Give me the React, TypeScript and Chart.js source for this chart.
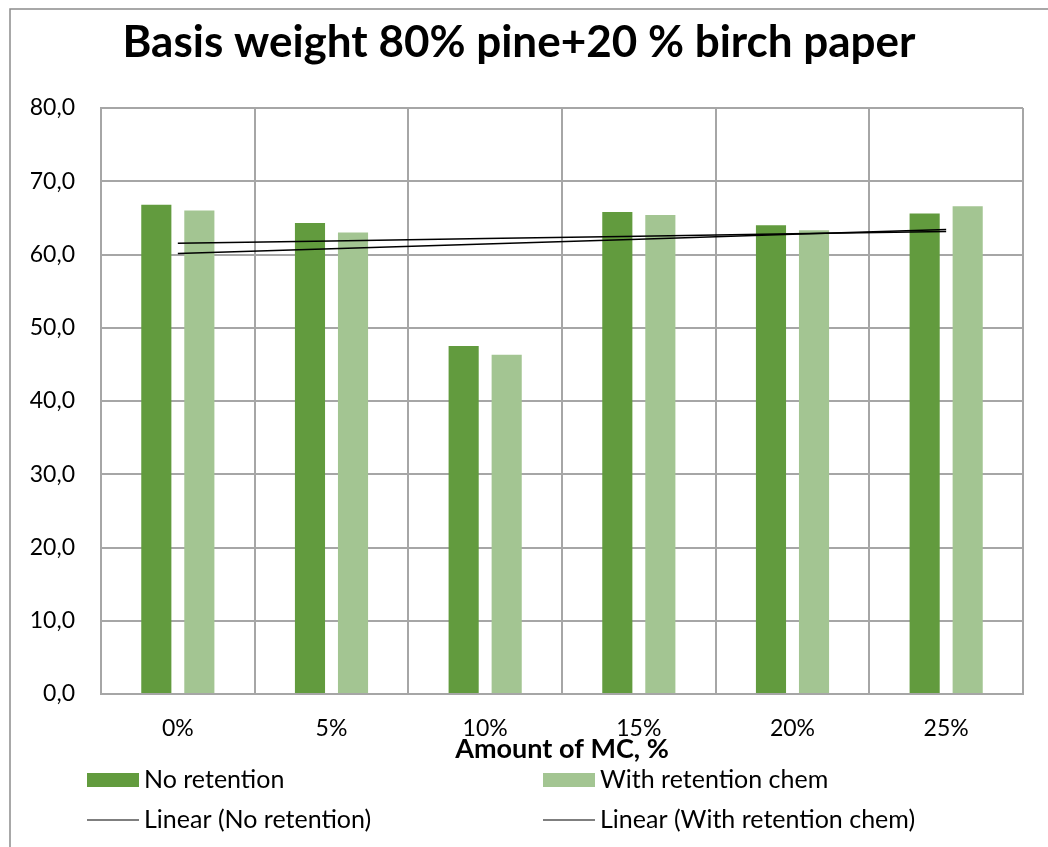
import React, { useEffect, useRef } from "react";
import { Chart, registerables } from "chart.js";

Chart.register(...registerables);

// Chart data
const categories = ["0%", "5%", "10%", "15%", "20%", "25%"];
const noRetention = [66.8, 64.3, 47.5, 65.8, 64.0, 65.6];
const withRetention = [66.0, 63.0, 46.3, 65.4, 63.3, 66.6];
const seriesNames = ["No retention", "With retention chem"];
const trendNames = ["Linear (No retention)", "Linear (With retention chem)"];
const titleText = "Basis weight 80% pine+20 % birch paper";
const axisTitle = "Amount of MC, %";

const DARK = "#629B3E";
const LIGHT = "#A3C592";
const GRID = "#a6a6a6";
const FONT = "Lato, 'Liberation Sans', sans-serif";

// Least-squares linear trend evaluated at each category index
function linearTrend(values: number[]): number[] {
  const n = values.length;
  const xs = values.map((_, i) => i + 1);
  const mx = xs.reduce((a, b) => a + b, 0) / n;
  const my = values.reduce((a, b) => a + b, 0) / n;
  let sxy = 0;
  let sxx = 0;
  for (let i = 0; i < n; i++) {
    sxy += (xs[i] - mx) * (values[i] - my);
    sxx += (xs[i] - mx) * (xs[i] - mx);
  }
  const slope = sxy / sxx;
  return xs.map((x) => my + slope * (x - mx));
}

const formatComma = (v: number) => v.toFixed(1).replace(".", ",");

// Title, axis title, frame and legend drawn onto the canvas
const decorations = {
  id: "decorations",
  beforeDraw(chart: any) {
    const ctx = chart.ctx;
    ctx.save();
    ctx.strokeStyle = "#8c8c8c";
    ctx.lineWidth = 1.5;
    ctx.beginPath();
    ctx.moveTo(10, chart.height);
    ctx.lineTo(10, 9);
    ctx.lineTo(chart.width, 9);
    ctx.stroke();
    ctx.restore();
  },
  afterDraw(chart: any) {
    const ctx = chart.ctx;
    const area = chart.chartArea;
    ctx.save();
    ctx.fillStyle = "#000";
    ctx.textAlign = "center";
    ctx.textBaseline = "alphabetic";
    ctx.font = `bold 44px ${FONT}`;
    ctx.fillText(titleText, 519, 57);

    ctx.font = `bold 27px ${FONT}`;
    ctx.fillText(axisTitle, (area.left + area.right) / 2, 758);

    // legend
    ctx.textAlign = "left";
    ctx.font = `25px ${FONT}`;
    const cols = [87, 543];
    const colors = [DARK, LIGHT];
    for (let i = 0; i < 2; i++) {
      const x = cols[i];
      ctx.fillStyle = colors[i];
      ctx.fillRect(x, 773, 52, 14);
      ctx.fillStyle = "#000";
      ctx.fillText(seriesNames[i], x + 57, 788);
      ctx.strokeStyle = "#000";
      ctx.lineWidth = 1.2;
      ctx.beginPath();
      ctx.moveTo(x, 820);
      ctx.lineTo(x + 52, 820);
      ctx.stroke();
      ctx.fillText(trendNames[i], x + 57, 828);
    }
    ctx.restore();
  },
};

export default function App() {
  const ref = useRef<HTMLCanvasElement | null>(null);

  useEffect(() => {
    if (!ref.current) return;
    const chart = new Chart(ref.current, {
      type: "bar",
      data: {
        labels: categories,
        datasets: [
          {
            type: "line",
            label: trendNames[0],
            data: linearTrend(noRetention),
            borderColor: "#000",
            borderWidth: 1.5,
            pointRadius: 0,
            fill: false,
            order: 0,
          },
          {
            type: "line",
            label: trendNames[1],
            data: linearTrend(withRetention),
            borderColor: "#000",
            borderWidth: 1.5,
            pointRadius: 0,
            fill: false,
            order: 0,
          },
          {
            type: "bar",
            label: seriesNames[0],
            data: noRetention,
            backgroundColor: DARK,
            categoryPercentage: 0.56,
            barPercentage: 0.7,
            order: 1,
          },
          {
            type: "bar",
            label: seriesNames[1],
            data: withRetention,
            backgroundColor: LIGHT,
            categoryPercentage: 0.56,
            barPercentage: 0.7,
            order: 1,
          },
        ] as any,
      },
      options: {
        animation: false,
        responsive: true,
        maintainAspectRatio: false,
        layout: { padding: { top: 108, right: 25, bottom: 0, left: 0 } },
        plugins: {
          legend: { display: false },
          title: { display: false },
          tooltip: { enabled: false },
        },
        scales: {
          x: {
            offset: true,
            grid: {
              offset: true,
              color: GRID,
              lineWidth: 2,
              drawTicks: false,
            },
            border: { color: GRID, width: 2 },
            ticks: {
              color: "#000",
              font: { family: FONT, size: 23 },
              padding: 21,
              maxRotation: 0,
            },
            afterFit(scale: any) {
              scale.height = 153;
            },
          },
          y: {
            min: 0,
            max: 80,
            grid: { color: GRID, lineWidth: 2, drawTicks: false },
            border: { color: GRID, width: 2 },
            ticks: {
              stepSize: 10,
              color: "#000",
              font: { family: FONT, size: 23 },
              padding: 26,
              callback: (v: any) => formatComma(Number(v)),
            },
            afterFit(scale: any) {
              scale.width = 101;
            },
          },
        },
      },
      plugins: [decorations],
    });
    return () => chart.destroy();
  }, []);

  return (
    <div style={{ position: "fixed", left: 0, top: 0, width: 1048, height: 847, background: "#fff" }}>
      <canvas ref={ref} />
    </div>
  );
}
